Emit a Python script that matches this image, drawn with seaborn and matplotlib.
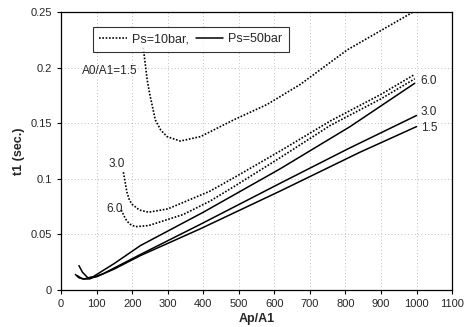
import numpy as np
import pandas as pd
import seaborn as sns
import matplotlib.pyplot as plt

# values
# Ps = 10 bar (dotted)
x_10_15 = [231, 236, 242, 250, 265, 280, 298, 335, 392, 485, 580, 673, 805, 990]
y_10_15 = [0.218, 0.205, 0.189, 0.175, 0.153, 0.144, 0.138, 0.134, 0.138, 0.153, 0.167, 0.185, 0.216, 0.250]
x_10_30 = [175, 180, 185, 192, 200, 220, 246, 300, 345, 419, 486, 616, 757, 900, 995]
y_10_30 = [0.106, 0.097, 0.088, 0.081, 0.077, 0.072, 0.070, 0.073, 0.079, 0.089, 0.101, 0.125, 0.152, 0.176, 0.194]
x_10_60 = [169, 178, 185, 195, 209, 246, 344, 419, 486, 616, 757, 900, 995]
y_10_60 = [0.072, 0.066, 0.062, 0.059, 0.057, 0.058, 0.068, 0.080, 0.093, 0.119, 0.148, 0.172, 0.190]

# Ps = 50 bar (solid)
x_50_15 = [50, 60, 75, 100, 150, 223, 391, 616, 841, 1000]
y_50_15 = [0.022, 0.016, 0.011, 0.012, 0.019, 0.031, 0.055, 0.089, 0.124, 0.147]
x_50_30 = [45, 60, 80, 120, 223, 391, 616, 807, 1000]
y_50_30 = [0.013, 0.010, 0.010, 0.015, 0.032, 0.059, 0.096, 0.127, 0.157]
x_50_60 = [40, 50, 65, 90, 150, 223, 400, 616, 813, 995]
y_50_60 = [0.014, 0.011, 0.010, 0.012, 0.024, 0.040, 0.070, 0.109, 0.147, 0.186]

x_ticks = list(range(0, 1101, 100))
y_ticks = [0, 0.05, 0.1, 0.15, 0.2, 0.25]
y_ticklabels = ["0", "0.05", "0.1", "0.15", "0.2", "0.25"]

sns.set_style("ticks")
plt.rcParams['font.family'] = ['Liberation Sans', 'DejaVu Sans']

fig = plt.figure(figsize=(4.67, 3.27), dpi=100)
ax = fig.add_axes([0.131, 0.113, 0.837, 0.850])

dotted = (0, (1, 1))
for xs, ys in [(x_10_15, y_10_15), (x_10_30, y_10_30), (x_10_60, y_10_60)]:
    sns.lineplot(x=xs, y=ys, ax=ax, color='black', lw=1.2, linestyle=dotted)
for xs, ys in [(x_50_15, y_50_15), (x_50_30, y_50_30), (x_50_60, y_50_60)]:
    sns.lineplot(x=xs, y=ys, ax=ax, color='black', lw=1.1)

# legend proxies
h1, = ax.plot([], [], color='black', lw=1.2, linestyle=dotted, label='Ps=10bar,')
h2, = ax.plot([], [], color='black', lw=1.1, label='Ps=50bar')
leg = ax.legend(handles=[h1, h2], ncol=2, loc='upper left', bbox_to_anchor=(0.065, 0.968),
                frameon=True, fancybox=False, fontsize=9, handlelength=2.2,
                columnspacing=0.6, handletextpad=0.4, borderpad=0.5)
leg.get_frame().set_edgecolor('black')
leg.get_frame().set_linewidth(0.8)

ax.text(58, 0.197, "A0/A1=1.5", fontsize=8.5, va='center')
ax.text(132, 0.113, "3.0", fontsize=8.5, va='center')
ax.text(127, 0.073, "6.0", fontsize=8.5, va='center')
ax.text(1010, 0.188, "6.0", fontsize=8.5, va='center')
ax.text(1012, 0.160, "3.0", fontsize=8.5, va='center')
ax.text(1012, 0.146, "1.5", fontsize=8.5, va='center')

ax.set_xlim(0, 1100)
ax.set_ylim(0, 0.25)
ax.set_xticks(x_ticks)
ax.set_yticks(y_ticks)
ax.set_yticklabels(y_ticklabels)
ax.tick_params(labelsize=8, length=3, width=0.8, color='black')
ax.grid(True, color='#aaaaaa', linestyle=(0, (1, 3)), linewidth=0.6)
for s in ax.spines.values():
    s.set_visible(True)
    s.set_color('black')
    s.set_linewidth(0.9)

ax.set_xlabel("Ap/A1", fontsize=9, fontweight='bold', labelpad=3)
ax.set_ylabel("t1 (sec.)", fontsize=9, fontweight='bold', labelpad=4)

fig.savefig("out.png", dpi=100)
